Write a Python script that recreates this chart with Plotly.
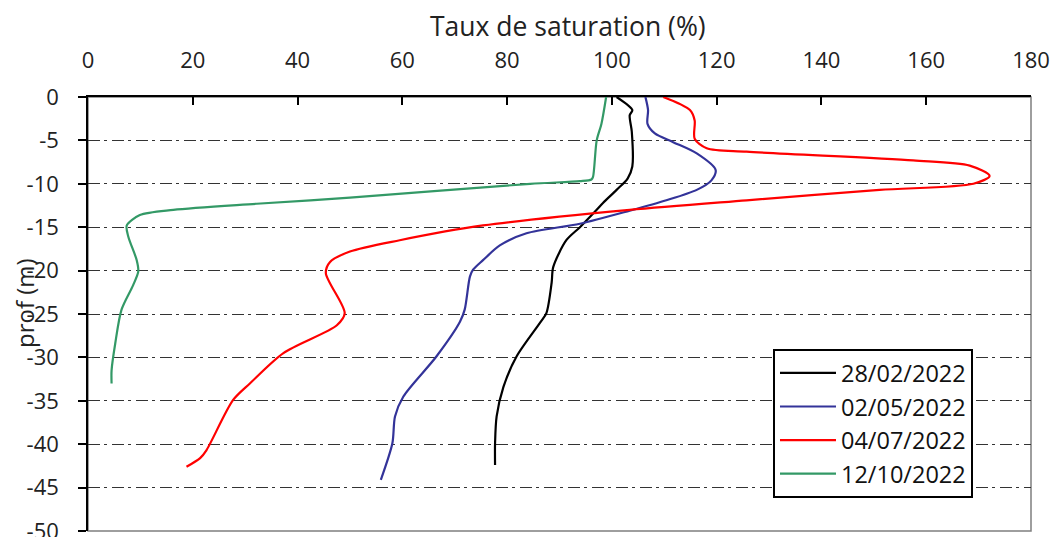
import plotly.graph_objects as go

# ---- data ----
labels = ["28/02/2022", "02/05/2022", "04/07/2022", "12/10/2022"]
colors = ["#000000", "#333399", "#FF0000", "#339966"]

depth_0228 = [0, -1.5, -2.1, -4, -8, -9.4, -10.7, -12.2, -13.0, -15, -16.5, -19.6, -21.4,
              -24.9, -26, -29.9, -33.4, -36.8, -39.9, -42.4]
sat_0228 = [100.9, 103.9, 103.4, 103.8, 103.9, 103, 100.9, 98.3, 97.1, 93.9, 91.3, 88.8, 88.5,
            87.5, 86.3, 81.8, 79.3, 78.0, 77.7, 77.7]

depth_0205 = [0, -1.5, -3.1, -4.2, -5.2, -6.5, -8.4, -9.6, -10.7, -11.9, -13.1, -14.6, -15.7,
              -17.1, -18.8, -19.9, -20.7, -24.5, -25.9, -29.9, -34.5, -36.8, -39.9, -44.1]
sat_0205 = [106.4, 106.9, 106.8, 108.2, 111.7, 116.2, 119.8, 119, 116.2, 110.4, 103.4, 93.9, 83.7,
            78.6, 75.4, 73.5, 72.9, 71.9, 71.0, 66.5, 60.2, 58.6, 58.1, 55.9]

depth_0407 = [0, -1.5, -2.7, -4.8, -5.9, -6.3, -7.3, -7.9, -9.1, -10, -10.7, -11.9, -13.0, -14.8,
              -16.5, -17.8, -19, -20.3, -24.9, -26.3, -29.5, -33.0, -34.9, -40.7, -41.6, -42.6]
sat_0407 = [109.8, 114.9, 115.8, 115.8, 118.1, 125.7, 157.5, 168.3, 172.1, 169, 151.1, 125.7, 103.4,
            75.4, 59.5, 50, 46.2, 45.4, 49.0, 47.5, 37.3, 30.9, 27.7, 22.6, 21.4, 18.8]

depth_1210 = [0, -3.1, -5, -9.2, -9.5, -9.7, -10.0, -11.6, -12.3, -13.0, -13.6, -14.8, -16.1,
              -18.8, -20.1, -21.7, -24.5, -28.4, -31.5, -33]
sat_1210 = [98.9, 98.0, 97.1, 96.4, 96.1, 93.9, 84.4, 50, 32.2, 16.3, 9.9, 7.4, 7.7,
            9.3, 9.6, 8.6, 6.4, 5.2, 4.5, 4.5]

x_ticks = [0, 20, 40, 60, 80, 100, 120, 140, 160, 180]
y_ticks = [0, -5, -10, -15, -20, -25, -30, -35, -40, -45, -50]
y_ticktext = ["0", "-5", "-10", "-15", "-20", "-25", "-30", "-35", "-40", "-45", "-50"]

series = [(sat_0228, depth_0228), (sat_0205, depth_0205), (sat_0407, depth_0407), (sat_1210, depth_1210)]

FONT = "Open Sans"

fig = go.Figure()
for i, ((xv, yv), name, col) in enumerate(zip(series, labels, colors)):
    fig.add_trace(go.Scatter(x=xv, y=yv, mode="lines", name=name, legendgroup=f"g{i}",
                             line=dict(color=col, width=2.2, shape="spline", smoothing=0.8)))

fig.update_layout(
    width=1061, height=537,
    margin=dict(l=88, r=30, t=97, b=6, autoexpand=False),
    paper_bgcolor="white", plot_bgcolor="white",
    font=dict(family=FONT, size=22, color="#222222"),
    showlegend=True,
    legend=dict(x=0.7264, y=0.419, xanchor="left", yanchor="top",
                bgcolor="white", bordercolor="black", borderwidth=2,
                font=dict(family=FONT, size=23.5, color="#111111"),
                tracegroupgap=0, itemwidth=56),
    shapes=[dict(type="rect", xref="paper", yref="paper", x0=0, x1=1, y0=0, y1=1,
                 line=dict(color="#7f7f7f", width=1.5), layer="below")],
    annotations=[
        dict(text="Taux de saturation (%)", xref="paper", yref="paper",
             x=0.509, y=1.1635, xanchor="center", yanchor="middle", showarrow=False,
             font=dict(family=FONT, size=26.5, color="#222222")),
        dict(text="prof (m)", xref="paper", yref="paper", textangle=-90,
             x=-0.068, y=0.525, xanchor="center", yanchor="middle", showarrow=False,
             font=dict(family=FONT, size=24, color="#222222")),
    ],
)

fig.update_xaxes(range=[0, 180], side="top", tickvals=x_ticks, showgrid=False, zeroline=False,
                 automargin=False,
                 showline=True, linecolor="black", linewidth=1.5,
                 ticks="inside", ticklen=8, tickcolor="black", tickwidth=1.5,
                 ticklabelstandoff=18, tickfont=dict(family=FONT, size=22, color="#222222"))
fig.update_yaxes(range=[-50, 0], tickvals=y_ticks, ticktext=y_ticktext, zeroline=False,
                 automargin=False,
                 showgrid=True, gridcolor="#333333", gridwidth=1, griddash="12px,4px,3px,5px",
                 showline=True, linecolor="black", linewidth=1.5,
                 ticks="outside", ticklen=8, tickcolor="black", tickwidth=1.5,
                 ticklabeloverflow="allow",
                 ticklabelstandoff=15, tickfont=dict(family=FONT, size=22, color="#222222"))

fig.write_html("out.html")
